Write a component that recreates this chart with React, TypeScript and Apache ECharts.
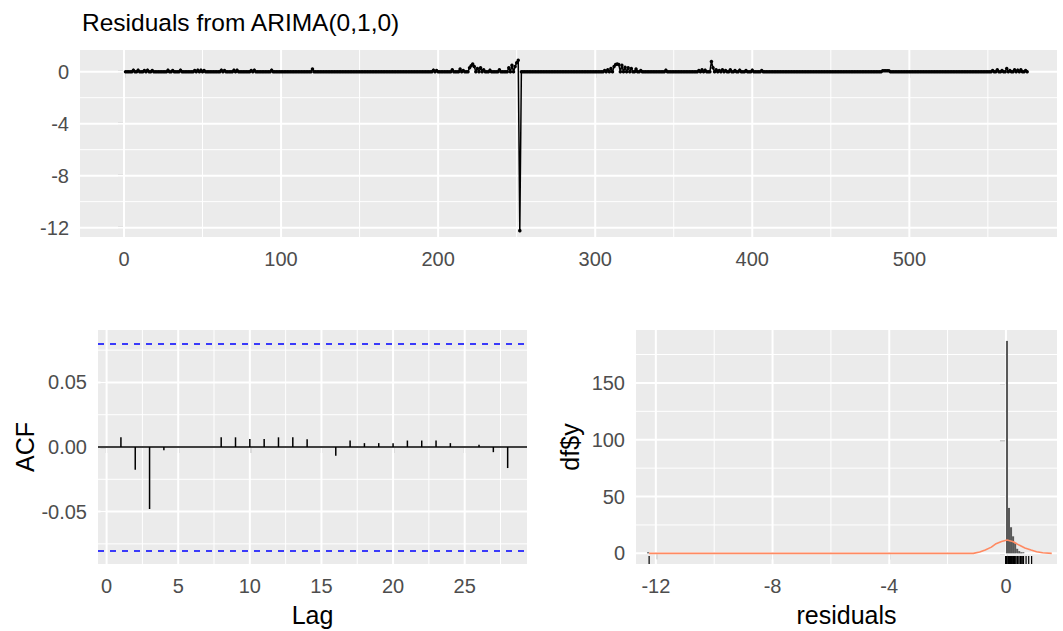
import React, { useEffect, useRef } from "react";
import * as echarts from "echarts";

// ---------- data ----------
const residualCount = 575;
const blipTimes = [
  6, 9, 13, 15, 18, 28, 31, 36, 45, 47, 49, 51, 62, 64, 70, 72, 81, 83, 94, 120,
  197, 199, 209, 214, 216, 220, 221, 222, 223, 225, 227, 229, 233, 239, 245, 247, 249, 250, 251, 252,
  306, 308, 310, 312, 313, 314, 315, 317, 319, 321, 323, 326, 329, 345,
  366, 368, 370, 374, 375, 377, 379, 381, 383, 386, 389, 392, 396, 400, 406,
  483, 484, 485, 486, 487, 553, 556, 559, 562, 564, 567, 569, 571, 574,
];
const blipValues = [
  0.12, 0.12, 0.1, 0.12, 0.1, 0.12, 0.1, 0.12, 0.1, 0.12, 0.12, 0.1, 0.12, 0.1, 0.12, 0.12, 0.1, 0.12, 0.12, 0.2,
  0.12, 0.1, 0.15, 0.2, 0.1, 0.3, 0.45, 0.6, 0.4, 0.25, 0.3, 0.15, 0.12, 0.15, 0.3, 0.5, 0.4, 0.69, 0.88, -12.23,
  0.1, 0.15, 0.25, 0.4, 0.55, 0.6, 0.55, 0.5, 0.35, 0.3, 0.25, 0.2, 0.1, 0.12,
  0.1, 0.15, 0.12, 0.78, 0.3, 0.15, 0.1, 0.15, 0.1, 0.15, 0.1, 0.12, 0.1, 0.12, 0.1,
  0.08, 0.08, 0.08, 0.08, 0.08, 0.1, 0.15, 0.1, 0.25, 0.1, 0.15, 0.12, 0.15, 0.1,
];

const acfLags = [1, 2, 3, 4, 5, 6, 7, 8, 9, 10, 11, 12, 13, 14, 15, 16, 17, 18, 19, 20, 21, 22, 23, 24, 25, 26, 27, 28];
const acfValues = [
  0.0075, -0.0176, -0.048, -0.0026, 0, 0, 0, 0.0075, 0.0075, 0.0062, 0.0062, 0.0075, 0.0075, 0.006,
  0, -0.0067, 0.005, 0.003, 0.003, 0.003, 0.005, 0.005, 0.005, 0.003, 0, 0.0018, -0.004, -0.0163,
];
const acfLimit = 0.0824;

const histBinStart = [-12.3, 0.0, 0.07, 0.14, 0.21, 0.28, 0.35, 0.42, 0.49, 0.56];
const histBinEnd = [-12.23, 0.07, 0.14, 0.21, 0.28, 0.35, 0.42, 0.49, 0.56, 0.63];
const histCounts = [1, 187, 40, 23, 15, 9, 4, 2, 1, 1];

const normalX = [-12.23, -8, -4, -2, -1.12, -0.9, -0.71, -0.5, -0.36, -0.15, 0.04, 0.25, 0.45, 0.65, 0.86, 1.05, 1.26, 1.57];
const normalY = [0, 0, 0, 0, 0, 1.2, 3, 5.5, 8.2, 10.5, 11.7, 10.2, 7.3, 4.8, 2.9, 1.4, 0.5, 0];

const topXTicks = [0, 100, 200, 300, 400, 500];
const topXMinor = [50, 150, 250, 350, 450, 550];
const topYTicks = [-12, -8, -4, 0];
const topYMinor = [-10, -6, -2];
const acfXTicks = [0, 5, 10, 15, 20, 25];
const acfXMinor = [2.5, 7.5, 12.5, 17.5, 22.5, 27.5];
const acfYTicks = [-0.05, 0, 0.05];
const acfYMinor = [-0.075, -0.025, 0.025, 0.075];
const histXTicks = [-12, -8, -4, 0];
const histXMinor = [-10, -6, -2];
const histYTicks = [0, 50, 100, 150];
const histYMinor = [25, 75, 125, 175];

// ---------- helpers ----------
const FONT = "Arial, 'Liberation Sans', sans-serif";
const TICK_COLOR = "#333333";
const LABEL_COLOR = "#4D4D4D";

function gridLines(idx: number, xs: number[], ys: number[], width: number) {
  const data: number[][] = [];
  xs.forEach((v) => data.push([v, 0, 0]));
  ys.forEach((v) => data.push([0, v, 1]));
  return {
    type: "custom",
    xAxisIndex: idx,
    yAxisIndex: idx,
    z: 1,
    silent: true,
    data,
    renderItem: (params: any, api: any) => {
      const cs = params.coordSys;
      const p = api.coord([api.value(0), api.value(1)]);
      const vertical = api.value(2) === 0;
      return {
        type: "line",
        shape: vertical
          ? { x1: p[0], y1: cs.y, x2: p[0], y2: cs.y + cs.height }
          : { x1: cs.x, y1: p[1], x2: cs.x + cs.width, y2: p[1] },
        style: { stroke: "#FFFFFF", lineWidth: width },
      };
    },
  };
}

function xAxisCfg(idx: number, min: number, max: number, ticks: number[], fmt?: (v: number) => string, name?: string, nameGap?: number) {
  return {
    type: "value",
    gridIndex: idx,
    min,
    max,
    axisLine: { show: false },
    splitLine: { show: false },
    axisTick: { show: true, customValues: ticks, length: 6, lineStyle: { color: TICK_COLOR, width: 1.2 } },
    axisLabel: {
      customValues: ticks,
      color: LABEL_COLOR,
      fontSize: 20,
      fontFamily: FONT,
      margin: 12,
      formatter: fmt || ((v: number) => String(v)),
    },
    name: name || "",
    nameLocation: "middle",
    nameGap: nameGap || 0,
    nameTextStyle: { color: "#000000", fontSize: 25, fontFamily: FONT },
  };
}

function yAxisCfg(idx: number, min: number, max: number, ticks: number[], fmt?: (v: number) => string, name?: string, nameGap?: number) {
  return {
    type: "value",
    gridIndex: idx,
    min,
    max,
    axisLine: { show: false },
    splitLine: { show: false },
    axisTick: { show: true, customValues: ticks, length: 6, lineStyle: { color: TICK_COLOR, width: 1.2 } },
    axisLabel: {
      customValues: ticks,
      color: LABEL_COLOR,
      fontSize: 20,
      fontFamily: FONT,
      margin: 11,
      formatter: fmt || ((v: number) => String(v)),
    },
    name: name || "",
    nameLocation: "middle",
    nameRotate: 90,
    nameGap: nameGap || 0,
    nameTextStyle: { color: "#000000", fontSize: 25, fontFamily: FONT },
  };
}

export default function App() {
  const ref = useRef<HTMLDivElement>(null);

  useEffect(() => {
    document.body.style.margin = "0";
    if (!ref.current) return;
    const chart = echarts.init(ref.current, undefined, { renderer: "svg" });

    const residuals: number[][] = [];
    for (let t = 1; t <= residualCount; t++) {
      const k = blipTimes.indexOf(t);
      residuals.push([t, k >= 0 ? blipValues[k] : 0]);
    }

    const option: any = {
      animation: false,
      backgroundColor: "#FFFFFF",
      title: {
        text: "Residuals from ARIMA(0,1,0)",
        left: 77,
        top: 5,
        textStyle: { color: "#000000", fontSize: 24.5, fontWeight: "normal", fontFamily: FONT },
      },
      grid: [
        { left: 80, top: 50, width: 977, height: 187, show: true, backgroundColor: "#EBEBEB", borderWidth: 0 },
        { left: 98, top: 330, width: 429, height: 234, show: true, backgroundColor: "#EBEBEB", borderWidth: 0 },
        { left: 636, top: 330, width: 421, height: 234, show: true, backgroundColor: "#EBEBEB", borderWidth: 0 },
      ],
      xAxis: [
        xAxisCfg(0, -28, 594, topXTicks),
        xAxisCfg(1, -0.6, 29.35, acfXTicks, undefined, "Lag", 38),
        xAxisCfg(2, -12.68, 1.75, histXTicks, undefined, "residuals", 38),
      ],
      yAxis: [
        yAxisCfg(0, -12.72, 1.67, topYTicks),
        yAxisCfg(1, -0.0906, 0.0906, acfYTicks, (v: number) => v.toFixed(2), "ACF", 45),
        yAxisCfg(2, -9.36, 196.6, histYTicks, undefined, "df$y", 54),
      ],
      series: [
        gridLines(0, topXMinor, topYMinor, 1),
        gridLines(0, topXTicks, topYTicks, 2),
        gridLines(1, acfXMinor, acfYMinor, 1),
        gridLines(1, acfXTicks, acfYTicks, 2),
        gridLines(2, histXMinor, histYMinor, 1),
        gridLines(2, histXTicks, histYTicks, 2),
        {
          type: "line",
          xAxisIndex: 0,
          yAxisIndex: 0,
          z: 3,
          data: residuals,
          symbol: "circle",
          symbolSize: 3.5,
          showSymbol: true,
          itemStyle: { color: "#000000" },
          lineStyle: { color: "#000000", width: 1.5 },
          silent: true,
        },
        {
          type: "custom",
          xAxisIndex: 1,
          yAxisIndex: 1,
          z: 3,
          silent: true,
          data: acfLags.map((l, i) => [l, acfValues[i]]),
          renderItem: (params: any, api: any) => {
            const p0 = api.coord([api.value(0), 0]);
            const p1 = api.coord([api.value(0), api.value(1)]);
            return {
              type: "line",
              shape: { x1: p0[0], y1: p0[1], x2: p1[0], y2: p1[1] },
              style: { stroke: "#000000", lineWidth: 1.5 },
            };
          },
          markLine: {
            silent: true,
            symbol: "none",
            label: { show: false },
            data: [
              { yAxis: 0, lineStyle: { color: "#000000", type: "solid", width: 1.5 } },
              { yAxis: acfLimit, lineStyle: { color: "#0000FF", type: [6, 6], width: 1.5 } },
              { yAxis: -acfLimit, lineStyle: { color: "#0000FF", type: [6, 6], width: 1.5 } },
            ],
          },
        },
        {
          type: "custom",
          xAxisIndex: 2,
          yAxisIndex: 2,
          z: 3,
          silent: true,
          data: histCounts.map((c, i) => [histBinStart[i], c, histBinEnd[i]]),
          renderItem: (params: any, api: any) => {
            const p0 = api.coord([api.value(0), 0]);
            const p1 = api.coord([api.value(2), api.value(1)]);
            return {
              type: "rect",
              shape: { x: p0[0], y: p1[1], width: Math.max(1, p1[0] - p0[0]), height: p0[1] - p1[1] },
              style: { fill: "#595959" },
            };
          },
        },
        {
          type: "line",
          xAxisIndex: 2,
          yAxisIndex: 2,
          z: 4,
          silent: true,
          data: normalX.map((x, i) => [x, normalY[i]]),
          showSymbol: false,
          lineStyle: { color: "#FF8A62", width: 1.6 },
        },
        {
          type: "custom",
          xAxisIndex: 2,
          yAxisIndex: 2,
          z: 4,
          silent: true,
          data: residuals.map((r) => [r[1], 0]),
          renderItem: (params: any, api: any) => {
            const cs = params.coordSys;
            const p = api.coord([api.value(0), 0]);
            const yb = cs.y + cs.height;
            return {
              type: "line",
              shape: { x1: p[0], y1: yb, x2: p[0], y2: yb - 8 },
              style: { stroke: "#000000", lineWidth: 1.2 },
            };
          },
        },
      ],
    };

    chart.setOption(option);
    return () => chart.dispose();
  }, []);

  return <div ref={ref} style={{ width: 1063, height: 631, position: "absolute", left: 0, top: 0 }} />;
}
